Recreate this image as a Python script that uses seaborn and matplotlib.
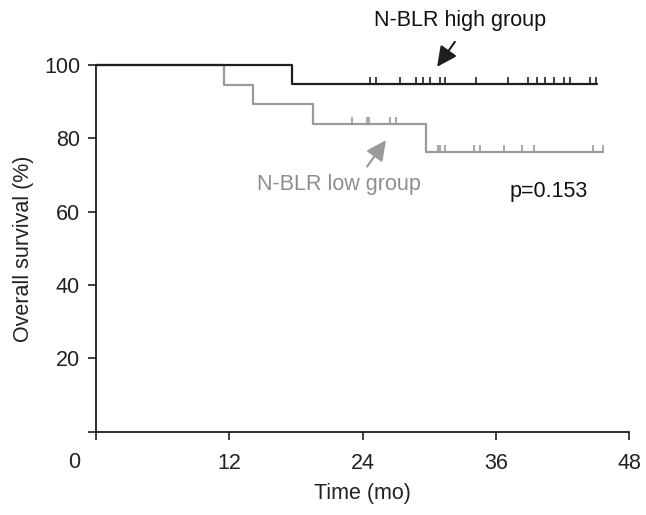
import matplotlib
matplotlib.use("Agg")
import matplotlib.pyplot as plt
import seaborn as sns
import pandas as pd

# ---- data ----
high_times = [0, 17.6, 45.1]
high_surv = [100, 94.7, 94.7]
high_censor = [24.7, 25.2, 27.4, 28.8, 29.4, 30.1, 31.0, 31.4, 34.2, 37.1,
               38.9, 39.7, 40.4, 41.2, 42.1, 42.7, 44.5, 45.0]

low_times = [0, 11.5, 14.1, 19.5, 29.7, 45.6]
low_surv = [100, 94.5, 89.3, 83.9, 76.4, 76.4]
low_censor_a = [23.0, 24.4, 24.6, 26.5, 27.0]
low_censor_b = [30.75, 31.0, 31.4, 34.0, 34.6, 36.7, 38.3, 39.4, 44.7, 45.6]

x_ticks = [0, 12, 24, 36, 48]
y_ticks = [20, 40, 60, 80, 100]
p_text = "p=0.153"
high_label = "N-BLR high group"
low_label = "N-BLR low group"

BLACK = "#1e1e1e"
GRAY = "#9a9a9a"
TEXT_GRAY = "#8e8e8e"

sns.set_style("ticks")
plt.rcParams['font.family'] = ['Liberation Sans', 'DejaVu Sans']
plt.rcParams['font.size'] = 15.5

fig = plt.figure(figsize=(6.46, 5.15), dpi=100)
ax = fig.add_axes([96 / 646, 83.3 / 515, (629.3 - 96) / 646, (431.7 - 65) / 515])

df_high = pd.DataFrame({"t": high_times, "s": high_surv})
df_low = pd.DataFrame({"t": low_times, "s": low_surv})
sns.lineplot(data=df_low, x="t", y="s", ax=ax, color=GRAY, lw=1.6,
             drawstyle="steps-post", estimator=None, sort=False, clip_on=False)
sns.lineplot(data=df_high, x="t", y="s", ax=ax, color=BLACK, lw=1.6,
             drawstyle="steps-post", estimator=None, sort=False, clip_on=False)

# censor marks (tick up)
ax.plot(high_censor, [high_surv[-1]] * len(high_censor), linestyle="none",
        marker=2, markersize=5, mew=1.2, color=BLACK, clip_on=False)
low_c = low_censor_a + low_censor_b
low_cy = [low_surv[3]] * len(low_censor_a) + [low_surv[4]] * len(low_censor_b)
ax.plot(low_c, low_cy, linestyle="none", marker=2, markersize=5, mew=1.2,
        color=GRAY, clip_on=False)

ax.set_xlim(0, 48)
ax.set_ylim(0, 100)
ax.set_xticks(x_ticks)
ax.set_xticklabels([""] + [str(v) for v in x_ticks[1:]])
ax.set_yticks([0] + y_ticks)
ax.set_yticklabels([""] + [str(v) for v in y_ticks])
ax.tick_params(direction="out", length=6, width=1.2, colors=BLACK,
               labelcolor="#222222", labelsize=15.5)
ax.tick_params(axis="x", pad=9)
ax.tick_params(axis="y", pad=5.5)
for s in ["top", "right"]:
    ax.spines[s].set_visible(False)
for s in ["left", "bottom"]:
    ax.spines[s].set_linewidth(1.3)
    ax.spines[s].set_color(BLACK)

# shifted "0" label at the origin
ax.annotate("0", xy=(0, 0), xycoords=("data", "axes fraction"),
            xytext=(-22, -20.5), textcoords="offset pixels",
            ha="center", va="top", fontsize=15.5, color="#222222")

ax.set_xlabel("Time (mo)", fontsize=15.5, color="#222222", labelpad=7)
ax.set_ylabel("Overall survival (%)", fontsize=15.5, color="#222222", labelpad=7)

# annotations: texts and arrows
arrow_kw = dict(arrowstyle="-|>,head_length=0.55,head_width=0.27", lw=1.5,
                mutation_scale=22, shrinkA=0, shrinkB=0)
ax.text(32.8, 112.0, high_label, ha="center", va="center", fontsize=15.5,
        color="#111111", clip_on=False)
ax.annotate("", xy=(30.7, 99.5), xytext=(32.3, 106.3), annotation_clip=False,
            arrowprops=dict(color=BLACK, **arrow_kw))
ax.text(21.9, 67.5, low_label, ha="center", va="center", fontsize=15.5,
        color=TEXT_GRAY)
ax.annotate("", xy=(26.1, 79.5), xytext=(24.4, 72.3),
            arrowprops=dict(color=GRAY, **arrow_kw))
ax.text(40.7, 65.6, p_text, ha="center", va="center", fontsize=15.5,
        color="#111111")

fig.savefig("out.png", dpi=100)
